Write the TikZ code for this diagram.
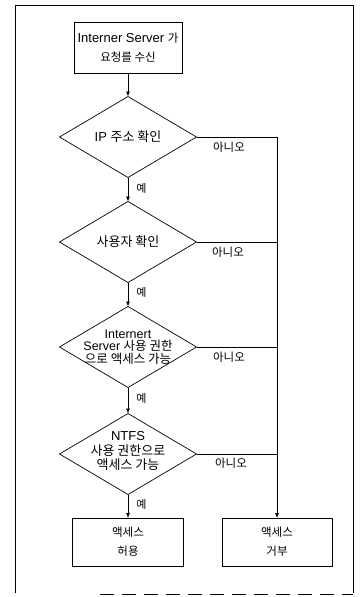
\documentclass[tikz,border=0pt]{standalone}
\usepackage{fontspec}
\setmainfont{Liberation Sans}
\newfontfamily\krf{Noto Sans CJK KR}
\usetikzlibrary{shapes.geometric,arrows.meta}
\newcommand\ko[1]{{\krf #1}}
\newcommand\kos[1]{{\krf\fontsize{11.5}{18}\selectfont #1}}
\begin{document}
\begin{tikzpicture}[x=1pt,y=-1pt,
  line width=0.7pt,
  box/.style={draw, minimum width=108pt, minimum height=51pt, inner sep=0pt, outer sep=0pt, align=center, font=\fontsize{13}{19}\selectfont},
  dia/.style={draw, diamond, minimum width=137pt, minimum height=81pt, inner sep=0pt, outer sep=0pt},
  arr/.style={-{Latex[length=5pt,width=4pt]}},
  yes/.style={font=\krf\fontsize{11}{12}\selectfont, anchor=west, inner sep=0pt},
  no/.style={font=\krf\fontsize{11.5}{13}\selectfont, inner sep=0pt},
  dtext/.style={align=center, inner sep=0pt, font=\fontsize{13}{12}\selectfont}
]
\useasboundingbox (0,0) rectangle (362,597);
\draw (15,593) -- (15,5) -- (353,5) -- (353,593);
\draw[dash pattern=on 14pt off 8pt] (100,594) -- (353,594);

\node[box] (start) at (128,47.5) {Interner Server \kos{가}\\\kos{요청를 수신}};

\node[dia] (d1) at (128,137) {};
\node[dia] (d2) at (128,242) {};
\node[dia] (d3) at (128,347) {};
\node[dia] (d4) at (128,454) {};

\node[dtext] (t1) at (d1.center) {IP \ko{주소 확인}};
\node[dtext] (t2) at (d2.center) {\ko{사용자 확인}};
\node[dtext, font=\fontsize{12.5}{12.8}\selectfont] (t3) at (d3.center) {Internert\\Server \ko{사용 권한}\\\ko{으로 액세스 가능}};
\node[dtext, font=\fontsize{13}{14.5}\selectfont] (t4) at ([yshift=3pt]d4.center) {NTFS\\\ko{사용 권한으로}\\\ko{액세스 가능}};

\node[box, minimum height=48pt, minimum width=111pt] (allow) at (128,542) {\kos{액세스}\\\kos{허용}};
\node[box, minimum height=48pt, minimum width=110pt] (deny) at (277,542) {\kos{액세스}\\\kos{거부}};

\draw[arr] (start) -- (d1);
\draw[arr] (d1) -- node[yes, pos=0.45, xshift=8pt] (y1) {예} (d2);
\draw[arr] (d2) -- node[yes, pos=0.4, xshift=8pt] (y2) {예} (d3);
\draw[arr] (d3) -- node[yes, pos=0.4, xshift=8pt] (y3) {예} (d4);
\draw[arr] (d4) -- node[yes, pos=0.4, xshift=8pt] (y4) {예} (allow);

\coordinate (c1) at (d1.east -| deny.north);
\coordinate (c2) at (d2.east -| deny.north);
\coordinate (c3) at (d3.east -| deny.north);
\coordinate (c4) at (d4.east -| deny.north);
\draw[arr] (d1.east) -- (c1) -- (deny.north);
\draw (d2.east) -- (c2);
\draw (d3.east) -- (c3);
\draw (d4.east) -- (c4);

\node[no] (n1) at (229,147) {아니오};
\node[no] (n2) at (228,252) {아니오};
\node[no] (n3) at (229,357) {아니오};
\node[no] (n4) at (231,463) {아니오};
\end{tikzpicture}
\end{document}
